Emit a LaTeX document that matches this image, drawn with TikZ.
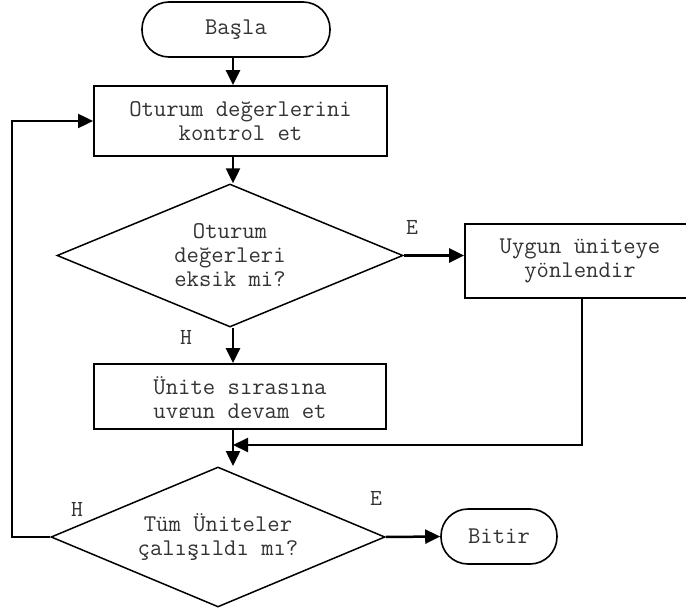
\documentclass[tikz,border=0pt]{standalone}
\usepackage{fontspec}
\usetikzlibrary{shapes.geometric,arrows.meta}

\begin{document}
\begin{tikzpicture}[x=1pt,y=-1pt,
  txt/.style={font=\ttfamily\fontsize{24}{24}\selectfont, text=black!80, align=center},
  procbox/.style={txt, draw, line width=1.8pt, inner sep=0pt},
  term/.style={txt, draw, line width=1.6pt, rounded corners=27pt, inner sep=0pt},
  decide/.style={txt, draw, diamond, line width=1.5pt, inner sep=0pt},
  flow/.style={line width=2.5pt, -{Triangle[length=15pt,width=14pt]}},
  backflow/.style={line width=2pt, -{Triangle[length=15pt,width=14pt]}},
  lbl/.style={font=\ttfamily\fontsize{23}{24}\selectfont, text=black!80, inner sep=0pt}
]
\clip (0,0) rectangle (686,610);

% main column of arrows
\coordinate (ax) at (233,0);

% shapes
\node[term, minimum width=188pt, minimum height=55pt] (start) at (236,29.5) {Başla};
\node[procbox, minimum width=293pt, minimum height=70pt] (check) at (240.5,121) {Oturum değerlerini\\kontrol et};
\node[decide, aspect=2.42, minimum width=346pt, minimum height=143pt] (miss) at (230,255.5) {Oturum\\değerleri\\eksik mi?};
\node[procbox, minimum width=230pt, minimum height=74pt] (redir) at (580,261) {Uygun üniteye\\yönlendir};
\node[procbox, minimum width=292pt, minimum height=65pt] (seq) at (240,396.5) {};
\begin{scope}
  \clip (94,364) rectangle (386,417);
  \node[txt] (seqtext) at (240,400) {Ünite sırasına\\uygun devam et};
\end{scope}
\node[decide, aspect=2.39, minimum width=334pt, minimum height=140pt] (done) at (218,537) {Tüm Üniteler\\çalışıldı mı?};
\node[term, minimum width=116pt, minimum height=55pt] (stop) at (499,536.5) {Bitir};

% branch labels
\node[lbl] (e1) at (412,227) {E};
\node[lbl] (h1) at (186,337) {H};
\node[lbl] (h2) at (77,509) {H};
\node[lbl] (e2) at (376,498) {E};

% connectors
\coordinate (join) at (233,445);
\coordinate (entry) at (233,466);
\draw[flow] (start.south -| ax) -- (check.north -| ax);
\draw[flow] (check.south -| ax) -- (miss.north -| ax);
\draw[flow] (miss.east) -- (miss.east -| redir.west);
\draw[flow] (miss.south -| ax) -- (seq.north -| ax);
\draw[backflow] (redir.south -| 582,0) |- (join);
\draw[flow] (seq.south -| ax) -- (entry);
\draw[flow] (done.east) -- (stop.west);
\draw[backflow] (done.west) -- (12,537) |- (check.west);
\end{tikzpicture}
\end{document}
